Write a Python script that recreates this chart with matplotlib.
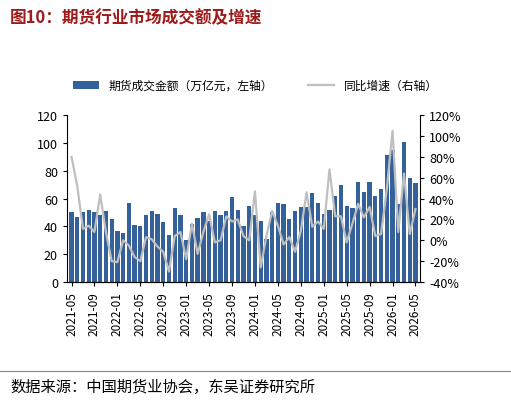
import matplotlib
matplotlib.use("Agg")
import matplotlib.pyplot as plt
from matplotlib.ticker import FuncFormatter
import pandas as pd

plt.rcParams['font.family'] = ['Noto Sans CJK SC', 'DejaVu Sans']

months = pd.date_range("2021-05", "2026-05", freq="MS").strftime("%Y-%m").tolist()
turnover = [50,47,50,52,50,48,51,45,37,35,57,41,40,48,51,49,43,34,53,48,30,42,46,50,44,51,48,51,61,52,
            40,55,48,44,31,50,57,56,45,51,54,54,64,57,49,52,62,70,55,53,72,65,72,62,67,91,95,56,101,75,71]
growth = [80,52,11,14,8,44,8,-20,-21,0,-5,-16,-20,3,1,-6,-11,-30,4,8,-18,16,-13,8,25,-2,0,23,18,20,
          4,0,47,-26,4,28,14,-4,3,-11,9,46,13,18,11,68,23,23,-2,16,35,22,32,4,6,49,105,8,64,6,30]
n = min(len(months), len(turnover), len(growth))
months, turnover, growth = months[:n], turnover[:n], growth[:n]

fig = plt.figure(figsize=(5.11, 4.02), dpi=100)
ax = fig.add_axes([0.131, 0.296, 0.691, 0.415])
ax2 = ax.twinx()
x = list(range(n))
b = ax.bar(x, turnover, width=0.75, color='#35619A', label='期货成交金额（万亿元，左轴）', zorder=2)
l, = ax2.plot(x, growth, color='#BFBFBF', lw=1.6, label='同比增速（右轴）', zorder=3)
ax.set_zorder(1); ax2.set_zorder(2)
ax.set_ylim(0, 120); ax.set_yticks(range(0, 121, 20))
ax2.set_ylim(-40, 120); ax2.set_yticks(range(-40, 121, 20))
ax2.yaxis.set_major_formatter(FuncFormatter(lambda v, p: f"{int(v)}%"))
ax.set_xlim(-0.8, n - 0.2)
ax.set_xticks(x[::4]); ax.set_xticklabels(months[::4], rotation=90, fontsize=8.5)
ax.tick_params(axis='y', labelsize=9, length=3)
ax2.tick_params(axis='y', labelsize=9, length=3)
ax.tick_params(axis='x', length=3)
for a in (ax, ax2):
    a.spines['top'].set_visible(False)
ax.spines['right'].set_visible(False)
ax2.spines['left'].set_visible(False)
fig.legend([b, l], [b.get_label(), l.get_label()], loc='center', bbox_to_anchor=(0.5, 0.785),
           ncol=2, frameon=False, fontsize=8.5, handlelength=2.2, columnspacing=3)
fig.text(0.02, 0.955, "图10：期货行业市场成交额及增速", color='#9E1B1B', fontsize=12, fontweight='bold', va='center')
fig.add_artist(plt.Line2D([0.0, 1.0], [0.075, 0.075], color='#888888', lw=0.8))
fig.text(0.02, 0.035, "数据来源：中国期货业协会，东吴证券研究所", fontsize=11, va='center')
fig.savefig("out.png", dpi=100)
